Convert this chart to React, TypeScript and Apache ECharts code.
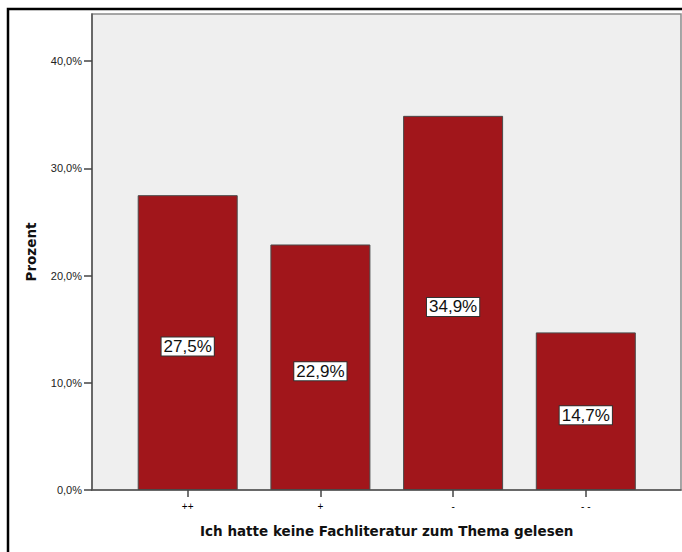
import React, { useEffect, useRef } from "react";
import * as echarts from "echarts";

const categories = ["++", "+", "-", "- -"];
const percentValues = [27.5, 22.9, 34.9, 14.7];
const yTickValues = [0, 10, 20, 30, 40];
const yMax = 44.4;
const xTitle = "Ich hatte keine Fachliteratur zum Thema gelesen";
const yTitle = "Prozent";

const FONT = "'Liberation Sans', Arial, sans-serif";
const TITLE_FONT = "'DejaVu Sans', Verdana, sans-serif";
const fmt = (v: number) => `${v.toFixed(1).replace(".", ",")}%`;

export default function App() {
  const ref = useRef<HTMLDivElement>(null);
  useEffect(() => {
    if (!ref.current) return;
    const chart = echarts.init(ref.current, undefined, { renderer: "svg" });
    const plotLeft = 92;
    const plotTop = 14;
    const plotW = 589;
    const plotH = 476;
    const step = 132.7;
    const pad = 95.7;
    chart.setOption({
      animation: false,
      backgroundColor: "#ffffff",
      textStyle: { fontFamily: FONT },
      grid: [
        {
          left: plotLeft,
          top: plotTop,
          width: plotW,
          height: plotH,
          show: true,
          backgroundColor: "#EFEFEF",
          borderColor: "#8a8a8a",
          borderWidth: 1.5,
          containLabel: false,
        },
        {
          left: plotLeft + pad - step / 2,
          top: plotTop,
          width: step * categories.length,
          height: plotH,
          containLabel: false,
        },
      ],
      xAxis: [
        {
          gridIndex: 0,
          type: "category",
          data: categories,
          axisLine: { show: true, lineStyle: { color: "#555", width: 1.5 } },
          axisTick: { show: false },
          axisLabel: { show: false },
          splitLine: { show: false },
        },
        {
          gridIndex: 1,
          type: "category",
          data: categories,
          axisLine: { show: false },
          axisTick: {
            show: true,
            alignWithLabel: true,
            length: 7,
            lineStyle: { color: "#444", width: 1.5 },
          },
          axisLabel: {
            show: true,
            color: "#000",
            fontSize: 10,
            fontFamily: FONT,
            margin: 11,
          },
          name: xTitle,
          nameLocation: "middle",
          nameGap: 34,
          nameTextStyle: {
            color: "#111",
            fontSize: 13.5,
            fontWeight: "bold",
            fontFamily: TITLE_FONT,
          },
        },
      ],
      yAxis: [
        {
          gridIndex: 0,
          type: "value",
          min: 0,
          max: yMax,
          interval: 10,
          axisLine: { show: true, lineStyle: { color: "#555", width: 1.5 } },
          axisTick: {
            show: true,
            length: 8,
            customValues: yTickValues,
            lineStyle: { color: "#444", width: 1.5 },
          },
          axisLabel: {
            show: true,
            customValues: yTickValues,
            formatter: (v: number) => (yTickValues.includes(v) ? fmt(v) : ""),
            color: "#222",
            fontSize: 11,
            fontFamily: FONT,
            margin: 10,
          },
          splitLine: { show: false },
          name: yTitle,
          nameLocation: "middle",
          nameGap: 54,
          nameTextStyle: {
            color: "#111",
            fontSize: 13.5,
            fontWeight: "bold",
            fontFamily: TITLE_FONT,
          },
        },
        {
          gridIndex: 1,
          type: "value",
          min: 0,
          max: yMax,
          show: false,
          splitLine: { show: false },
        },
      ],
      series: [
        {
          type: "bar",
          xAxisIndex: 1,
          yAxisIndex: 1,
          data: percentValues,
          barWidth: 100,
          itemStyle: {
            color: "#A1161B",
            borderColor: "#4a4a4a",
            borderWidth: 1,
          },
          label: {
            show: true,
            position: "inside",
            offset: [0, 4],
            formatter: (p: any) => fmt(p.value),
            color: "#111",
            fontSize: 17,
            fontFamily: FONT,
            backgroundColor: "#ffffff",
            borderColor: "#333",
            borderWidth: 1,
            padding: [1, 2, 1, 2],
            lineHeight: 16,
          },
        },
      ],
      graphic: [
        {
          type: "rect",
          silent: true,
          z: 100,
          shape: { x: 8, y: 9, width: 700, height: 600 },
          style: { fill: "none", stroke: "#000", lineWidth: 2.5 },
        },
      ],
    });
    return () => chart.dispose();
  }, []);
  return (
    <div
      ref={ref}
      style={{ position: "fixed", left: 0, top: 0, width: 682, height: 552 }}
    />
  );
}
